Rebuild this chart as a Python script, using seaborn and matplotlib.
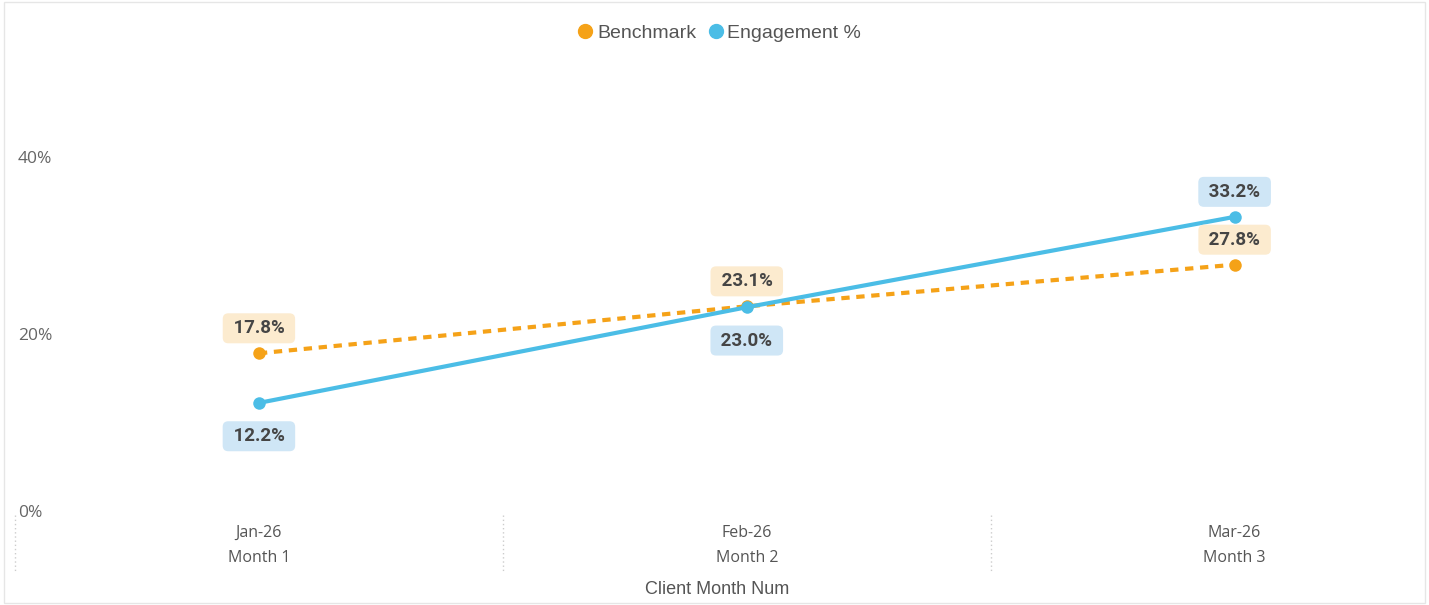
import matplotlib
matplotlib.use("Agg")
import matplotlib.pyplot as plt
import matplotlib.transforms as mtransforms
from matplotlib.lines import Line2D
from matplotlib.patches import Rectangle
import pandas as pd
import seaborn as sns

# data
months = ["Jan-26\nMonth 1", "Feb-26\nMonth 2", "Mar-26\nMonth 3"]
benchmark = [17.8, 23.1, 27.8]
engagement = [12.2, 23.0, 33.2]
# label placement: True = above the point
bench_above = [True, True, True]
eng_above = [False, False, True]

orange = "#F5A218"
blue = "#4BBDE6"
orange_box = "#FCEBCF"
blue_box = "#CFE6F6"

sns.set_style("white")
plt.rcParams["font.family"] = ["Open Sans", "DejaVu Sans"]

df = pd.DataFrame({"month": months, "Benchmark": benchmark, "Engagement %": engagement})

fig = plt.figure(figsize=(14.29, 6.05), dpi=100)
ax = fig.add_axes([15 / 1429, 1 - 511 / 605, 1405 / 1429, 443 / 605])

sns.lineplot(data=df, x="month", y="Benchmark", ax=ax, color=orange, linewidth=3,
             marker="o", markersize=9, markeredgewidth=0, sort=False,
             linestyle=(0, (2, 1.6)))
sns.lineplot(data=df, x="month", y="Engagement %", ax=ax, color=blue, linewidth=3,
             marker="o", markersize=9, markeredgewidth=0, sort=False)

ax.set_ylim(0, 50)
ax.set_xlim(-0.5, 2.38)
ax.set_yticks([0, 20, 40])
ax.set_yticklabels(["0%", "20%", "40%"])
ax.tick_params(axis="y", direction="in", pad=-2, length=0, labelsize=12.5, labelcolor="#666666")
for t in ax.get_yticklabels():
    t.set_horizontalalignment("left")
ax.tick_params(axis="x", length=0, pad=10, labelsize=11.5, labelcolor="#555555")
for t in ax.get_xticklabels():
    t.set_linespacing(1.75)
ax.set_ylabel("")
ax.set_xlabel("Client Month Num", fontsize=13, color="#555555", labelpad=11,
              family=["Liberation Sans", "DejaVu Sans"])
for s in ax.spines.values():
    s.set_visible(False)

# category separators below the axis
trans = mtransforms.blended_transform_factory(ax.transData, ax.transAxes)
for xs in [-0.5, 0.5, 1.5]:
    ax.plot([xs, xs], [-0.01, -0.14], transform=trans, color="#cccccc", lw=1,
            linestyle=(0, (1, 2)), clip_on=False)

# data labels
def add_labels(vals, above, box):
    for i, (v, a) in enumerate(zip(vals, above)):
        off = 18 if a else -24
        ax.annotate(f" {v:.1f}% ", (i, v), xytext=(0, off), textcoords="offset points",
                    ha="center", va="center", fontsize=13.5, fontweight="bold", color="#454545",
                    family=["Roboto", "DejaVu Sans"],
                    bbox=dict(boxstyle="round,pad=0.32,rounding_size=0.3", fc=box, ec="none"))

add_labels(benchmark, bench_above, orange_box)
add_labels(engagement, eng_above, blue_box)

# legend
handles = [
    Line2D([], [], marker="o", color=orange, linestyle="none", markersize=10),
    Line2D([], [], marker="o", color=blue, linestyle="none", markersize=10),
]
fig.legend(handles, ["Benchmark", "Engagement %"], loc="center", bbox_to_anchor=(0.502, 1 - 33 / 605),
           ncol=2, frameon=False, handletextpad=0.0, columnspacing=0.4, handlelength=1.2,
           prop={"family": ["Liberation Sans", "DejaVu Sans"], "size": 14}, labelcolor="#555555")

# panel border
fig.patches.append(Rectangle((4 / 1429, 2 / 605), 1421 / 1429, 601 / 605, transform=fig.transFigure,
                             fill=False, ec="#e6e6e6", lw=1))

fig.savefig("out.png", dpi=100)
